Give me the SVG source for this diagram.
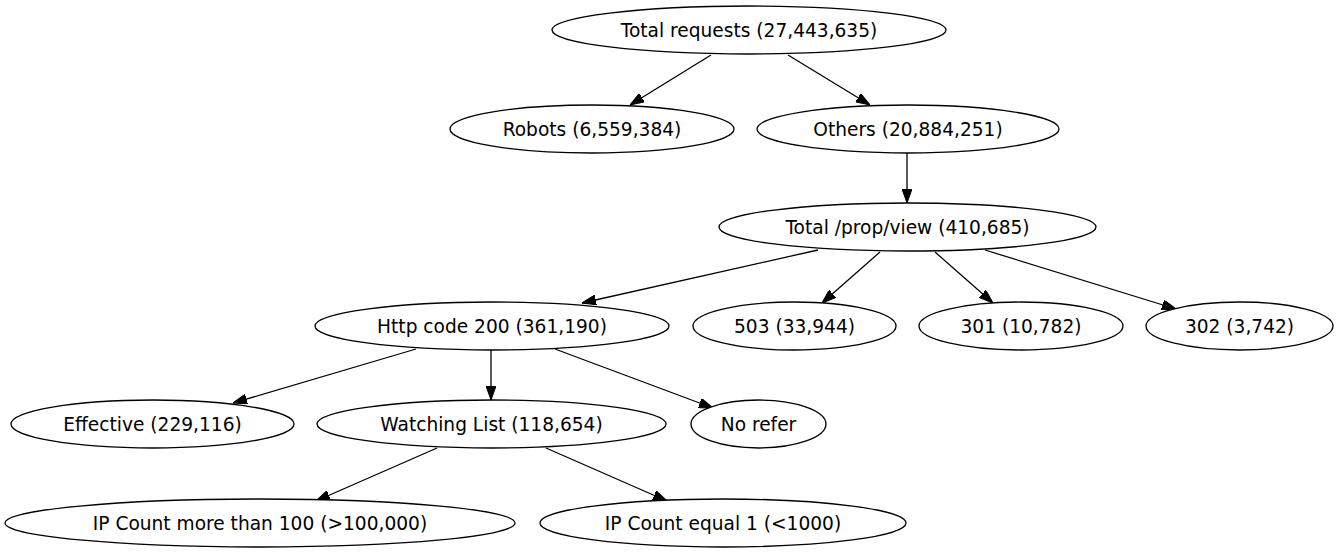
<svg xmlns="http://www.w3.org/2000/svg" width="1339" height="555" viewBox="0 0 1339 555">
<style>
.n ellipse{fill:#fff;stroke:#000;stroke-width:1.3}
.n text{font-family:"DejaVu Sans",sans-serif;font-size:18.6px;fill:#000;text-anchor:middle;dominant-baseline:central}
#edges line{stroke:#000;stroke-width:1.3;marker-end:url(#ah)}
</style>
<defs>
<marker id="ah" markerUnits="userSpaceOnUse" viewBox="0 0 14 10" refX="14" refY="5" markerWidth="14" markerHeight="10" orient="auto">
<path d="M0,0 L14,5 L0,10 z" fill="#000" stroke="#000" stroke-width="1"/>
</marker>
</defs>
<rect width="1339" height="555" fill="#fff"/>
<g id="edges">
<line x1="711" y1="55" x2="630" y2="105"/>
<line x1="788" y1="55" x2="870" y2="105"/>
<line x1="907" y1="152" x2="907" y2="203"/>
<line x1="818" y1="250" x2="582" y2="303"/>
<line x1="880" y1="252" x2="822" y2="303"/>
<line x1="935" y1="252" x2="993" y2="303"/>
<line x1="985" y1="250" x2="1176" y2="309"/>
<line x1="416" y1="349" x2="233" y2="403"/>
<line x1="491" y1="350" x2="491" y2="400"/>
<line x1="555" y1="349" x2="713" y2="408"/>
<line x1="437" y1="448" x2="316" y2="501"/>
<line x1="546" y1="448" x2="667" y2="501"/>
</g>
<g id="n_total" class="n"><ellipse cx="749" cy="30" rx="197" ry="24"/><text x="749" y="30">Total requests (27,443,635)</text></g>
<g id="n_robots" class="n"><ellipse cx="592" cy="129" rx="142" ry="24"/><text x="592" y="129">Robots (6,559,384)</text></g>
<g id="n_others" class="n"><ellipse cx="908" cy="129" rx="151" ry="24"/><text x="908" y="129">Others (20,884,251)</text></g>
<g id="n_prop" class="n"><ellipse cx="907.5" cy="227" rx="188.5" ry="24"/><text x="907.5" y="227">Total /prop/view (410,685)</text></g>
<g id="n_http200" class="n"><ellipse cx="492" cy="326" rx="177" ry="24"/><text x="492" y="326">Http code 200 (361,190)</text></g>
<g id="n_503" class="n"><ellipse cx="794.5" cy="326" rx="101.5" ry="24"/><text x="794.5" y="326">503 (33,944)</text></g>
<g id="n_301" class="n"><ellipse cx="1021" cy="326" rx="102" ry="24"/><text x="1021" y="326">301 (10,782)</text></g>
<g id="n_302" class="n"><ellipse cx="1239.5" cy="326" rx="93.5" ry="24"/><text x="1239.5" y="326">302 (3,742)</text></g>
<g id="n_effective" class="n"><ellipse cx="152.5" cy="424" rx="141.5" ry="24"/><text x="152.5" y="424">Effective (229,116)</text></g>
<g id="n_watching" class="n"><ellipse cx="491.5" cy="424" rx="174.5" ry="24"/><text x="491.5" y="424">Watching List (118,654)</text></g>
<g id="n_norefer" class="n"><ellipse cx="758.5" cy="424" rx="67.5" ry="24"/><text x="758.5" y="424">No refer</text></g>
<g id="n_ipmore" class="n"><ellipse cx="260" cy="523" rx="255" ry="24"/><text x="260" y="523">IP Count more than 100 (&gt;100,000)</text></g>
<g id="n_ipone" class="n"><ellipse cx="723" cy="523" rx="183" ry="24"/><text x="723" y="523">IP Count equal 1 (&lt;1000)</text></g>
</svg>
